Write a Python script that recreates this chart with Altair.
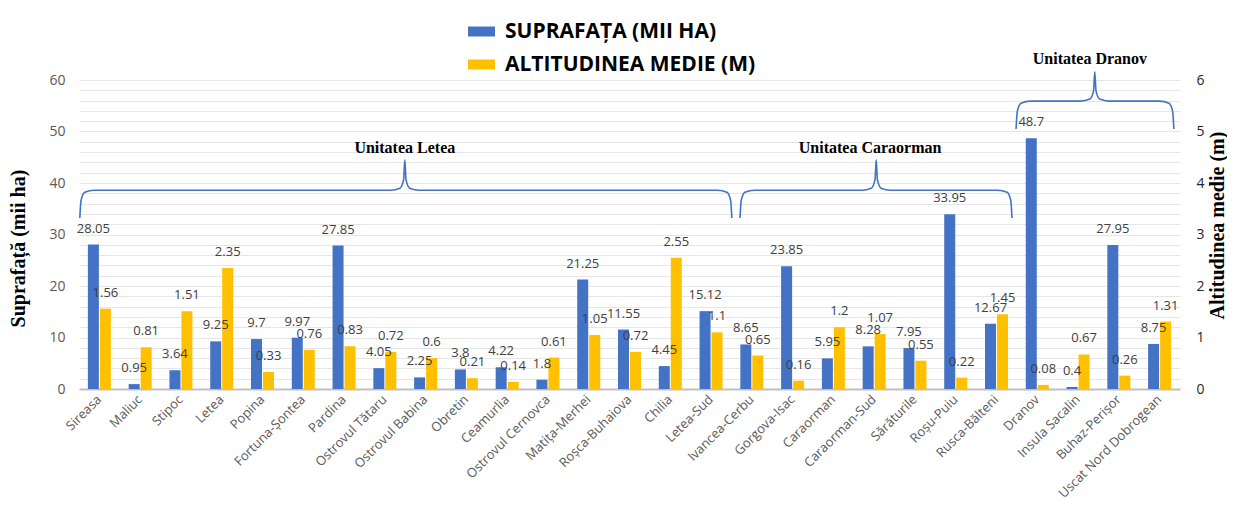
import altair as alt
import pandas as pd

# ---------------- data ----------------
categories = ["Sireasa", "Maliuc", "Stipoc", "Letea", "Popina", "Fortuna-Șontea", "Pardina",
              "Ostrovul Tătaru", "Ostrovul Babina", "Obretin", "Ceamurlia", "Ostrovul Cernovca",
              "Matița-Merhei", "Roșca-Buhaiova", "Chilia", "Letea-Sud", "Ivancea-Cerbu",
              "Gorgova-Isac", "Caraorman", "Caraorman-Sud", "Sărăturile", "Roșu-Puiu",
              "Rusca-Bălteni", "Dranov", "Insula Sacalin", "Buhaz-Perișor", "Uscat Nord Dobrogean"]
suprafata = [28.05, 0.95, 3.64, 9.25, 9.7, 9.97, 27.85, 4.05, 2.25, 3.8, 4.22, 1.8, 21.25, 11.55,
             4.45, 15.12, 8.65, 23.85, 5.95, 8.28, 7.95, 33.95, 12.67, 48.7, 0.4, 27.95, 8.75]
altitudine = [1.56, 0.81, 1.51, 2.35, 0.33, 0.76, 0.83, 0.72, 0.6, 0.21, 0.14, 0.61, 1.05, 0.72,
              2.55, 1.1, 0.65, 0.16, 1.2, 1.07, 0.55, 0.22, 1.45, 0.08, 0.67, 0.26, 1.31]

series_names = ["SUPRAFAȚA (MII HA)", "ALTITUDINEA MEDIE (M)"]

# unit brackets (category-index units on x, left-axis units on y)
unit_names = ["Unitatea Letea", "Unitatea Caraorman", "Unitatea Dranov"]
unit_start = [0.02, 16.21, 22.98]
unit_end = [16.01, 22.88, 26.85]
unit_tip = [7.99, 19.55, 24.91]
unit_text_x = [7.99, 19.4, 24.79]
unit_y_end = [33.2, 33.2, 50.5]
unit_y_line = [38.6, 38.6, 55.9]
unit_y_tip = [44.5, 44.5, 61.6]
unit_y_text = [46.8, 46.8, 64.1]

# ---------------- styling ----------------
BLUE = "#4472C4"
YELLOW = "#FFC000"
N = len(categories)

df = pd.DataFrame({"cat": categories, "sup": suprafata, "alt": altitudine,
                   "s1": [series_names[0]] * N, "s2": [series_names[1]] * N})

rows = []
for i, name in enumerate(unit_names):
    x0, x1, xt = unit_start[i], unit_end[i], unit_tip[i]
    ye, yl, yt = unit_y_end[i], unit_y_line[i], unit_y_tip[i]
    shape = [(x0, ye), (x0 + 0.03, yl - 2.0), (x0 + 0.12, yl - 0.4), (x0 + 0.35, yl),
             (xt - 0.35, yl), (xt - 0.12, yl + 0.4), (xt - 0.03, yl + 2.0), (xt, yt),
             (xt + 0.03, yl + 2.0), (xt + 0.12, yl + 0.4), (xt + 0.35, yl),
             (x1 - 0.35, yl), (x1 - 0.12, yl - 0.4), (x1 - 0.03, yl - 2.0), (x1, ye)]
    for k, (px, py) in enumerate(shape):
        rows.append({"unit": name, "ord": k, "x": px, "y": py})
bracket_df = pd.DataFrame(rows)
label_df = pd.DataFrame({"unit": unit_names, "x": unit_text_x, "y": unit_y_text})

band = alt.Scale(domain=categories, paddingInner=0, paddingOuter=0)
x_main = alt.X("cat:N", sort=categories, scale=band, title=None,
               axis=alt.Axis(labelAngle=-45, labelAlign="right", labelBaseline="middle",
                             labelFont="Open Sans", labelFontSize=13, labelColor="#595959",
                             labelPadding=8, domainColor="#bfbfbf", domainWidth=2,
                             ticks=False, grid=False, labelOverlap=False, labelLimit=0))
x_plain = alt.X("cat:N", sort=categories, scale=band, axis=None)

color_scale = alt.Scale(domain=series_names, range=[BLUE, YELLOW])
legend = alt.Legend(orient="none", legendX=389, legendY=-62, title=None, direction="vertical",
                    labelFont="Open Sans", labelFontWeight="bold", labelFontSize=21,
                    labelColor="#000000", labelLimit=0,
                    symbolType="M-1,-0.37H1V0.37H-1Z", symbolSize=729,
                    symbolStrokeWidth=0, rowPadding=9, labelOffset=10)

y_left = alt.Y("sup:Q", scale=alt.Scale(domain=[0, 60], nice=False),
               axis=alt.Axis(values=list(range(0, 61, 2)),
                             labelExpr="datum.value % 10 == 0 ? datum.label : ''",
                             grid=True, gridColor="#e6e6e6", gridWidth=1, domain=False,
                             ticks=False, labelPadding=14, labelFont="Open Sans",
                             labelFontSize=14, labelColor="#595959",
                             title="Suprafață (mii ha)", titleFont="Liberation Serif",
                             titleFontSize=20, titleFontWeight="bold", titleColor="#000000",
                             titleAngle=270, titleBaseline="bottom", titleX=-51, titleY=168))
y_right = alt.Y("alt:Q", scale=alt.Scale(domain=[0, 6], nice=False),
                axis=alt.Axis(orient="right", values=[0, 1, 2, 3, 4, 5, 6], grid=False,
                              domain=False, ticks=False, labelPadding=16, labelFont="Open Sans",
                              labelFontSize=14, labelColor="#262626",
                              title="Altitudinea medie (m)", titleFont="Liberation Serif",
                              titleFontSize=20, titleFontWeight="bold", titleColor="#000000",
                              titleAngle=270, titleBaseline="alphabetic", titleX=43,
                              titleY=145))

base = alt.Chart(df)

blue_bars = base.mark_bar(width=11, xOffset=-6).encode(
    x=x_main, y=y_left,
    color=alt.Color("s1:N", scale=color_scale, legend=legend))
yellow_bars = base.mark_bar(width=11, xOffset=6).encode(
    x=x_plain, y=y_right,
    color=alt.Color("s2:N", scale=color_scale, legend=legend))

blue_text = base.mark_text(xOffset=-6, dy=-16, baseline="middle", font="Open Sans",
                           fontSize=13, color="#404040").encode(
    x=x_plain,
    y=alt.Y("sup:Q", scale=alt.Scale(domain=[0, 60], nice=False), axis=None),
    text=alt.Text("sup:Q", format=".2~f"))
yellow_text = base.mark_text(xOffset=6, dy=-16, baseline="middle", font="Open Sans",
                             fontSize=13, color="#404040").encode(
    x=x_plain,
    y=alt.Y("alt:Q", scale=alt.Scale(domain=[0, 6], nice=False), axis=None),
    text=alt.Text("alt:Q", format=".2~f"))

bx = alt.Scale(domain=[0, N], nice=False, zero=False)
by = alt.Scale(domain=[0, 60], nice=False)
brackets = alt.Chart(bracket_df).mark_line(interpolate="monotone", color=BLUE,
                                           strokeWidth=1.6, clip=False).encode(
    x=alt.X("x:Q", scale=bx, axis=None),
    y=alt.Y("y:Q", scale=by, axis=None),
    detail="unit:N", order="ord:Q")
bracket_labels = alt.Chart(label_df).mark_text(font="Liberation Serif", fontWeight="bold",
                                               fontSize=16, color="#000000").encode(
    x=alt.X("x:Q", scale=bx, axis=None),
    y=alt.Y("y:Q", scale=by, axis=None),
    text="unit:N")

chart = alt.layer(blue_bars, yellow_bars, blue_text, yellow_text, brackets, bracket_labels
                  ).resolve_scale(x="independent", y="independent").properties(
    width=1101, height=309,
    autosize=alt.AutoSizeParams(type="none"),
    padding={"left": 71, "top": 72, "right": 47, "bottom": 114},
    background="white",
).configure_view(stroke=None)

chart.save("out.html", embed_options={"renderer": "svg", "actions": False})
